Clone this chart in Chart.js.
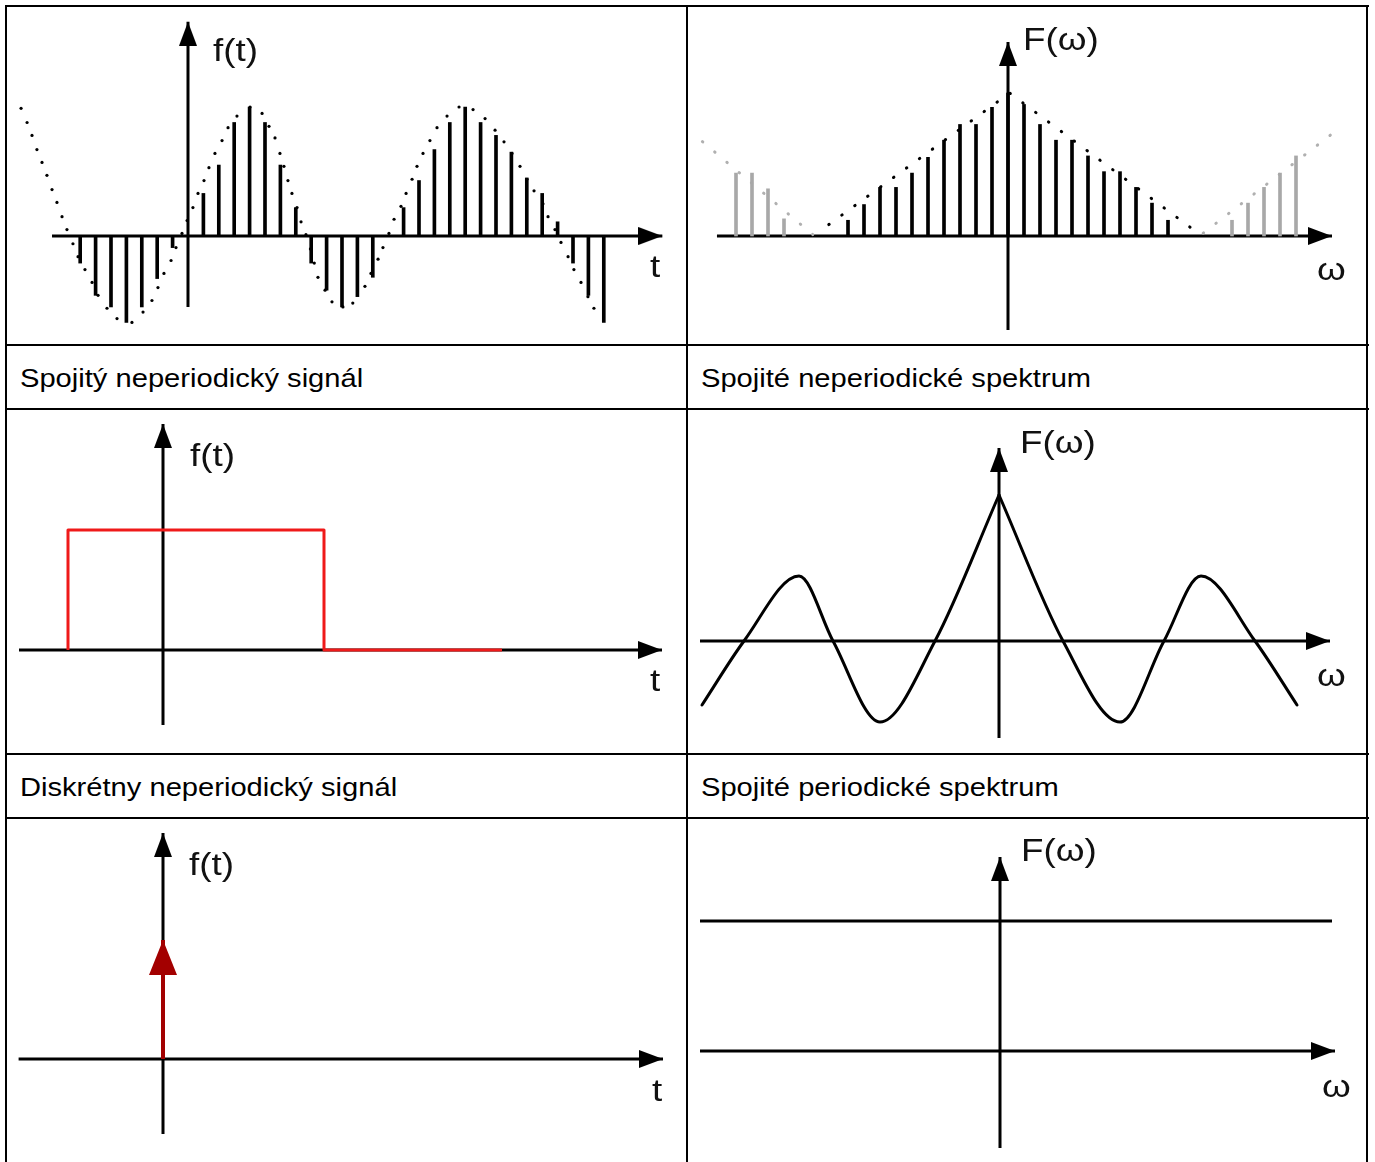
<!DOCTYPE html>
<html>
<head>
<meta charset="utf-8">
<script src="https://cdn.jsdelivr.net/npm/chart.js@4.4.1/dist/chart.umd.min.js"></script>
<style>
  body { margin: 0; background: #fff; }
  #page { position: relative; width: 1375px; height: 1162px; overflow: hidden; }
  canvas { position: absolute; }
  .ln { position: absolute; background: #000; }
  .lbl { position: absolute; font: 26px/26px "Liberation Sans", Arial, sans-serif; color: #000;
         transform: scaleX(1.12); transform-origin: 0 0; white-space: nowrap; }
</style>
</head>
<body>
<div id="page">
  <canvas id="c1" width="679" height="337" style="left:7px;top:7px"></canvas>
  <canvas id="c2" width="678" height="337" style="left:688px;top:7px"></canvas>
  <canvas id="c3" width="679" height="343" style="left:7px;top:410px"></canvas>
  <canvas id="c4" width="678" height="343" style="left:688px;top:410px"></canvas>
  <canvas id="c5" width="679" height="343" style="left:7px;top:819px"></canvas>
  <canvas id="c6" width="678" height="343" style="left:688px;top:819px"></canvas>

  <div class="ln" style="left:5px;top:5px;width:1364px;height:2px"></div>
  <div class="ln" style="left:5px;top:344px;width:1364px;height:2px"></div>
  <div class="ln" style="left:5px;top:408px;width:1364px;height:2px"></div>
  <div class="ln" style="left:5px;top:753px;width:1364px;height:2px"></div>
  <div class="ln" style="left:5px;top:817px;width:1364px;height:2px"></div>
  <div class="ln" style="left:5px;top:5px;width:2px;height:1157px"></div>
  <div class="ln" style="left:686px;top:5px;width:2px;height:1157px"></div>
  <div class="ln" style="left:1366px;top:5px;width:2px;height:1157px"></div>

  <div class="lbl" style="left:20px;top:365px">Spojitý neperiodický signál</div>
  <div class="lbl" style="left:701px;top:365px">Spojité neperiodické spektrum</div>
  <div class="lbl" style="left:20px;top:774px">Diskrétny neperiodický signál</div>
  <div class="lbl" style="left:701px;top:774px">Spojité periodické spektrum</div>
</div>
<script>
// panel 1: sampled signal (stems at integer n) and the dotted continuous curve
const sigN = [-7,-6,-5,-4,-3,-2,-1,0,1,2,3,4,5,6,7,8,9,10,11,12,13,14,15,16,17,18,19,20,21,22,23,24,25,26,27];
const sigF = [-0.21,-0.46,-0.55,-0.67,-0.55,-0.33,-0.09,0,0.33,0.55,0.88,1.0,0.88,0.55,0.22,-0.21,-0.42,-0.55,-0.47,-0.32,0,0.22,0.43,0.67,0.88,1.0,0.88,0.78,0.65,0.45,0.33,0.11,-0.21,-0.46,-0.67];
const dotN = [-10.84,-10.45,-10.13,-9.81,-9.48,-9.16,-8.83,-8.51,-8.18,-7.86,-7.47,-7.14,-6.69,-6.23,-5.84,-5.26,-4.61,-3.64,-2.92,-2.34,-1.95,-1.56,-1.10,-0.78,-0.39,-0.06,0.32,0.65,1.04,1.36,1.75,2.21,2.60,3.18,4.03,4.81,5.26,5.65,5.97,6.23,6.49,6.75,7.08,7.34,7.66,7.95,8.2,8.44,8.90,9.35,10.06,10.7,11.49,11.88,12.34,12.66,13.05,13.38,13.83,14.16,14.55,14.87,15.26,15.71,16.17,16.82,17.60,18.51,19.29,19.94,20.52,21.04,21.56,22.01,22.47,23.05,23.38,23.83,24.22,24.68,25.06,25.52,25.97,26.36];
const dotF = [0.99,0.88,0.78,0.67,0.57,0.47,0.36,0.26,0.15,0.05,-0.06,-0.16,-0.26,-0.36,-0.46,-0.56,-0.64,-0.67,-0.59,-0.50,-0.40,-0.29,-0.19,-0.09,0.02,0.12,0.22,0.33,0.43,0.53,0.64,0.74,0.84,0.93,1.00,0.95,0.85,0.76,0.64,0.54,0.43,0.33,0.22,0.11,0.01,-0.10,-0.21,-0.32,-0.42,-0.51,-0.55,-0.52,-0.39,-0.29,-0.18,-0.09,0.02,0.13,0.23,0.33,0.44,0.54,0.64,0.74,0.84,0.93,1.00,0.98,0.91,0.82,0.73,0.64,0.54,0.44,0.35,0.25,0.15,0.05,-0.05,-0.16,-0.26,-0.36,-0.47,-0.56];

// panel 2: line spectrum, main period black, neighbouring periods grey
const specK = [-10,-9,-8,-7,-6,-5,-4,-3,-2,-1,0,1,2,3,4,5,6,7,8,9,10];
const specF = [0.11,0.22,0.34,0.34,0.44,0.55,0.67,0.78,0.78,0.90,1.0,0.92,0.78,0.67,0.67,0.56,0.45,0.45,0.34,0.23,0.11];
const aliasK = [-17,-16,-15,-14,14,15,16,17,18];
const aliasF = [0.44,0.44,0.33,0.12,0.11,0.23,0.34,0.44,0.56];
const envK = [-11.2, 0.1, 11.4];
const envF = [0.08, 1.0, 0.06];
const envLeftK = [-19.1, -12.2];
const envLeftF = [0.66, 0.01];
const envRightK = [12.2, 20.9];
const envRightF = [0.02, 0.77];

// panel 3: rectangular pulse
const rectT = [-2.375, -2.375, 4.025, 4.025, 8.475];
const rectF = [0, 1, 1, 0, 0];

// panel 4: spectrum curve, left and right of the peak
const curveLW = [-7.425, -6.375, -5.0, -4.15, -2.975, -1.6, 0];
const curveLF = [-0.438, 0, 0.445, 0, -0.555, 0, 1.0];
const curveRW = [0, 1.6, 3.025, 4.125, 5.05, 6.4, 7.45];
const curveRF = [1.0, 0, -0.555, 0, 0.445, 0, -0.438];

// panel 5: single impulse
const impT = [0, 0];
const impF = [0, 1];

// panel 6: flat spectrum
const flatW = [-7.5, 8.3];
const flatF = [1, 1];

function pts(xs, ys) {
  return xs.map((v, i) => ({x: v, y: ys[i]}));
}

function arrowHead(len, half, color) {
  const c = document.createElement('canvas');
  c.width = half * 2 + 2;
  c.height = len * 2;
  const g = c.getContext('2d');
  g.fillStyle = color;
  g.beginPath();
  g.moveTo(c.width / 2, len);
  g.lineTo(c.width / 2 + half, len * 2);
  g.lineTo(c.width / 2 - half, len * 2);
  g.closePath();
  g.fill();
  return c;
}

const head = arrowHead(24, 9, '#000');
const redHead = arrowHead(35, 14, '#a30000');

function axis(xs, ys, rot) {
  return {
    type: 'line', data: pts(xs, ys),
    borderColor: '#000', borderWidth: 3,
    pointRadius: [0, 4], pointStyle: head, rotation: rot, pointHoverRadius: 0
  };
}

const axisLabels = {
  id: 'axisLabels',
  afterDatasetsDraw(chart, args, opts) {
    const ctx = chart.ctx;
    const x = chart.scales.x, y = chart.scales.y;
    ctx.save();
    ctx.font = '32px "Liberation Sans", Arial, sans-serif';
    ctx.fillStyle = '#111';
    ctx.textBaseline = 'alphabetic';
    (opts.items || []).forEach(function(it) {
      ctx.save();
      ctx.translate(x.getPixelForValue(it.x), y.getPixelForValue(it.y));
      ctx.scale(1.15, 1);
      ctx.fillText(it.text, 0, 0);
      ctx.restore();
    });
    ctx.restore();
  }
};

function makeChart(id, xr, yr, datasets, labels) {
  return new Chart(id, {
    type: 'line',
    data: {datasets: datasets},
    options: {
      responsive: false,
      animation: false,
      events: [],
      layout: {padding: 0, autoPadding: false},
      plugins: {legend: {display: false}, tooltip: {enabled: false}, axisLabels: {items: labels}},
      scales: {
        x: {type: 'linear', min: xr[0], max: xr[1], display: false, offset: false},
        y: {type: 'linear', min: yr[0], max: yr[1], display: false}
      }
    },
    plugins: [axisLabels]
  });
}

// 1
makeChart('c1', [-11.753, 32.338], [-0.8372, 1.7752], [
  {type: 'bar', data: pts(sigN, sigF), backgroundColor: '#000', barThickness: 3, grouped: false, borderWidth: 0},
  {type: 'line', data: pts(dotN, dotF), showLine: false, pointRadius: 1.6, pointBorderWidth: 0, pointBackgroundColor: '#000'},
  axis([-8.83, 30.8], [0, 0], 90),
  axis([0, 0], [-0.55, 1.66], 0)
], [{text: 'f(t)', x: 1.62, y: 1.353}, {text: 't', x: 30.0, y: -0.318}]);

// 2
makeChart('c2', [-20.0, 22.375], [-0.7552, 1.6014], [
  {type: 'bar', data: pts(specK, specF), backgroundColor: '#000', barThickness: 3, grouped: false, borderWidth: 0},
  {type: 'bar', data: pts(aliasK, aliasF), backgroundColor: '#a8a8a8', barThickness: 3, grouped: false, borderWidth: 0},
  {type: 'line', data: pts(envK, envF), borderColor: '#000', borderWidth: 3, borderDash: [0.5, 15.5], borderCapStyle: 'round', pointRadius: 0},
  {type: 'line', data: pts(envLeftK, envLeftF), borderColor: '#b0b0b0', borderWidth: 3, borderDash: [0.5, 15.5], borderCapStyle: 'round', pointRadius: 0},
  {type: 'line', data: pts(envRightK, envRightF), borderColor: '#b0b0b0', borderWidth: 3, borderDash: [0.5, 15.5], borderCapStyle: 'round', pointRadius: 0},
  axis([-18.19, 20.25], [0, 0], 90),
  axis([0, 0], [-0.657, 1.357], 0)
], [{text: 'F(ω)', x: 0.94, y: 1.304}, {text: 'ω', x: 19.31, y: -0.308}]);

// 3
makeChart('c3', [-3.9, 13.075], [-0.8583, 2.0], [
  {type: 'line', data: pts(rectT, rectF), borderColor: '#ef1a1a', borderWidth: 3, borderJoinStyle: 'round', pointRadius: 0},
  axis([-3.6, 12.475], [0, 0], 90),
  axis([0, 0], [-0.625, 1.883], 0)
], [{text: 'f(t)', x: 0.675, y: 1.533}, {text: 't', x: 12.175, y: -0.342}]);

// 4
makeChart('c4', [-7.775, 9.175], [-0.7671, 1.5822], [
  {type: 'line', data: pts(curveLW, curveLF), borderColor: '#000', borderWidth: 3, cubicInterpolationMode: 'monotone', borderCapStyle: 'round', pointRadius: 0},
  {type: 'line', data: pts(curveRW, curveRF), borderColor: '#000', borderWidth: 3, cubicInterpolationMode: 'monotone', borderCapStyle: 'round', pointRadius: 0},
  axis([-7.475, 8.275], [0, 0], 90),
  axis([0, 0], [-0.664, 1.322], 0)
], [{text: 'F(ω)', x: 0.525, y: 1.288}, {text: 'ω', x: 7.95, y: -0.308}]);

// 5
makeChart('c5', [-3.9, 13.075], [-0.8655, 2.0168], [
  {type: 'line', data: pts(impT, impF), borderColor: '#a30000', borderWidth: 4, pointRadius: [0, 4], pointStyle: redHead, rotation: 0, pointHoverRadius: 0},
  axis([-3.61, 12.5], [0, 0], 90),
  axis([0, 0], [-0.63, 1.899], 0)
], [{text: 'f(t)', x: 0.65, y: 1.546}, {text: 't', x: 12.225, y: -0.353}]);

// 6
makeChart('c6', [-7.8, 9.15], [-0.8538, 1.7846], [
  {type: 'line', data: pts(flatW, flatF), borderColor: '#000', borderWidth: 3, pointRadius: 0},
  axis([-7.5, 8.375], [0, 0], 90),
  axis([0, 0], [-0.746, 1.492], 0)
], [{text: 'F(ω)', x: 0.525, y: 1.4615}, {text: 'ω', x: 8.05, y: -0.354}]);
</script>
</body>
</html>
